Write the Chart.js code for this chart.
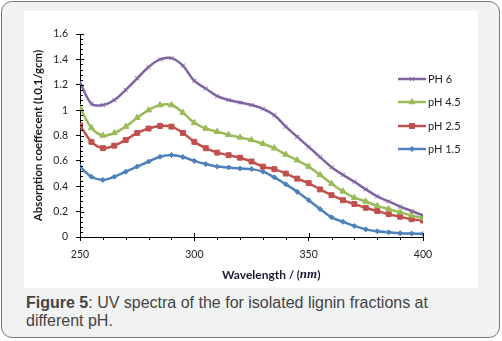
<!DOCTYPE html>
<html>
<head>
<meta charset="utf-8">
<script src="https://cdn.jsdelivr.net/npm/chart.js@4.4.0/dist/chart.umd.min.js"></script>
<style>
html, body { margin: 0; padding: 0; background: #fff; }
.box { position: absolute; left: 1px; top: 1px; width: 497px; height: 335px; border: 1.5px solid #7a7a7a; border-radius: 11px; background: #f1f2f2; }
.panel { position: absolute; left: 24px; top: 11px; width: 454px; height: 277px; background: #fff; }
.caption { position: absolute; left: 26px; top: 294px; font: 16px "Liberation Sans", Arial, sans-serif; color: #444; line-height: 18px; }
</style>
</head>
<body>
<div class="box"></div>
<div class="panel"><canvas id="uvChart" width="454" height="277"></canvas></div>
<div class="caption"><b>Figure 5</b>: UV spectra of the for isolated lignin fractions at<br>different pH.</div>
<script>
// wavelength (nm) and absorption values
const wavelengths = [250, 255, 260, 265, 270, 275, 280, 285, 290, 295, 300, 305, 310, 315, 320, 325,
    330, 335, 340, 345, 350, 355, 360, 365, 370, 375, 380, 385, 390, 395, 400];
const ph6 = [1.22, 1.05, 1.04, 1.08, 1.16, 1.25, 1.34, 1.40, 1.41, 1.35, 1.23, 1.17, 1.11, 1.08, 1.06, 1.04,
    1.01, 0.96, 0.87, 0.79, 0.71, 0.63, 0.55, 0.49, 0.435, 0.375, 0.32, 0.28, 0.24, 0.205, 0.17];
const ph45 = [1.02, 0.86, 0.80, 0.82, 0.87, 0.94, 1.00, 1.04, 1.04, 0.98, 0.90, 0.855, 0.83, 0.805, 0.785, 0.765,
    0.735, 0.70, 0.65, 0.605, 0.555, 0.49, 0.42, 0.36, 0.31, 0.28, 0.245, 0.22, 0.195, 0.17, 0.15];
const ph25 = [0.88, 0.75, 0.70, 0.72, 0.765, 0.82, 0.855, 0.875, 0.87, 0.82, 0.75, 0.70, 0.665, 0.645, 0.625, 0.595,
    0.555, 0.535, 0.50, 0.46, 0.425, 0.375, 0.33, 0.29, 0.26, 0.23, 0.205, 0.18, 0.16, 0.14, 0.13];
const ph15 = [0.555, 0.475, 0.45, 0.475, 0.515, 0.555, 0.595, 0.633, 0.646, 0.63, 0.60, 0.575, 0.555, 0.548, 0.54, 0.535,
    0.515, 0.47, 0.415, 0.357, 0.29, 0.22, 0.155, 0.12, 0.087, 0.06, 0.045, 0.037, 0.03, 0.027, 0.025];
const seriesNames = ['PH 6', 'pH 4.5', 'pH 2.5', 'pH 1.5'];
const xTickValues = [250, 300, 350, 400];
const yTickValues = [0, 0.2, 0.4, 0.6, 0.8, 1, 1.2, 1.4, 1.6];

function points(values) {
    return wavelengths.map(function (w, i) { return { x: w, y: values[i] }; });
}

const styles = [
    { color: '#8064a2', pointStyle: 'crossRot', radius: 3 },
    { color: '#9bbb59', pointStyle: 'triangle', radius: 3.5 },
    { color: '#c0504d', pointStyle: 'rect', radius: 3.5 },
    { color: '#4f81bd', pointStyle: 'rectRot', radius: 2.5 }
];
const allSeries = [ph6, ph45, ph25, ph15];

const datasets = allSeries.map(function (vals, i) {
    const s = styles[i];
    return {
        label: seriesNames[i],
        data: points(vals),
        borderColor: s.color,
        backgroundColor: s.color,
        borderWidth: 2.5,
        tension: 0.35,
        pointStyle: s.pointStyle,
        pointRadius: s.radius,
        pointBorderWidth: 1,
        pointBorderColor: s.color,
        pointBackgroundColor: s.color
    };
});

// minor ticks, x-axis title and legend drawn by hand (Excel look)
const extras = {
    id: 'extras',
    afterDraw: function (chart) {
        const ctx = chart.ctx;
        const xs = chart.scales.x, ys = chart.scales.y;
        const area = chart.chartArea;
        ctx.save();
        ctx.strokeStyle = '#000';
        ctx.lineWidth = 1;
        ctx.beginPath();
        for (let v = 250; v <= 400; v += 10) {
            const px = Math.round(xs.getPixelForValue(v)) + 0.5;
            if (v % 50 === 0) {
                ctx.moveTo(px, area.bottom); ctx.lineTo(px, area.bottom - 4);
            } else {
                ctx.moveTo(px, area.bottom); ctx.lineTo(px, area.bottom + 3);
            }
        }
        for (let k = 0; k <= 40; k++) {
            const py = Math.round(ys.getPixelForValue(k * 0.04)) + 0.5;
            const len = (k % 5 === 0) ? 4 : 3;
            ctx.moveTo(area.left, py); ctx.lineTo(area.left + len, py);
        }
        ctx.stroke();

        // x title
        const parts = [
            { t: 'Wavelength ', f: 'bold 12px Lato' },
            { t: '/ (', f: 'bold 11px Lato' },
            { t: 'nm', f: 'bold italic 13px "Liberation Serif"' },
            { t: ')', f: 'bold 12px Lato' }
        ];
        let x = 198;
        const y = 264;
        ctx.fillStyle = '#1a1a33';
        ctx.textBaseline = 'middle';
        ctx.textAlign = 'left';
        parts.forEach(function (p) {
            ctx.font = p.f;
            ctx.fillText(p.t, x, y);
            x += ctx.measureText(p.t).width;
        });

        // legend
        const legendY = [68, 91, 115, 138];
        chart.data.datasets.forEach(function (ds, i) {
            const ly = legendY[i];
            ctx.strokeStyle = ds.borderColor;
            ctx.lineWidth = 2.5;
            ctx.beginPath();
            ctx.moveTo(374, ly); ctx.lineTo(402, ly);
            ctx.stroke();
            ctx.fillStyle = ds.borderColor;
            ctx.lineWidth = 1;
            Chart.helpers.drawPoint(ctx, { pointStyle: ds.pointStyle, radius: ds.pointRadius, rotation: 0, borderWidth: 1 }, 388, ly);
            ctx.fillStyle = '#222';
            ctx.font = '11px Lato';
            ctx.textBaseline = 'middle';
            ctx.fillText(ds.label, 404, ly + 0.5);
        });
        ctx.restore();
    }
};

const config = {
    type: 'line',
    data: { datasets: datasets },
    options: {
        responsive: false,
        animation: false,
        layout: { padding: { left: 0, right: 55, top: 23, bottom: 0 } },
        plugins: { legend: { display: false }, tooltip: { enabled: false } },
        scales: {
            x: {
                type: 'linear',
                min: 250,
                max: 400,
                afterBuildTicks: function (s) { s.ticks = xTickValues.map(function (v) { return { value: v }; }); },
                afterFit: function (s) { s.height = 51; },
                grid: { drawOnChartArea: false, color: '#000', tickLength: 4 },
                border: { color: '#000', width: 1 },
                ticks: { color: '#222', font: { family: 'Lato', size: 10.5 }, padding: 7, maxRotation: 0 }
            },
            y: {
                min: 0,
                max: 1.6,
                afterBuildTicks: function (s) { s.ticks = yTickValues.map(function (v) { return { value: v }; }); },
                afterFit: function (s) { s.width = 56; },
                grid: { drawOnChartArea: false, color: '#000', tickLength: 4 },
                border: { color: '#000', width: 1 },
                ticks: { color: '#222', font: { family: 'Lato', size: 10.5 }, padding: 8,
                    callback: function (v) { return String(v); } },
                title: { display: true, text: 'Absorption coeffecent (L0.1/gcm)', color: '#1a1a1a',
                    font: { family: 'Lato', size: 11.5, weight: 'bold' }, padding: { top: 7, bottom: 0 } }
            }
        }
    },
    plugins: [extras]
};

new Chart(document.getElementById('uvChart').getContext('2d'), config);
</script>
</body>
</html>
